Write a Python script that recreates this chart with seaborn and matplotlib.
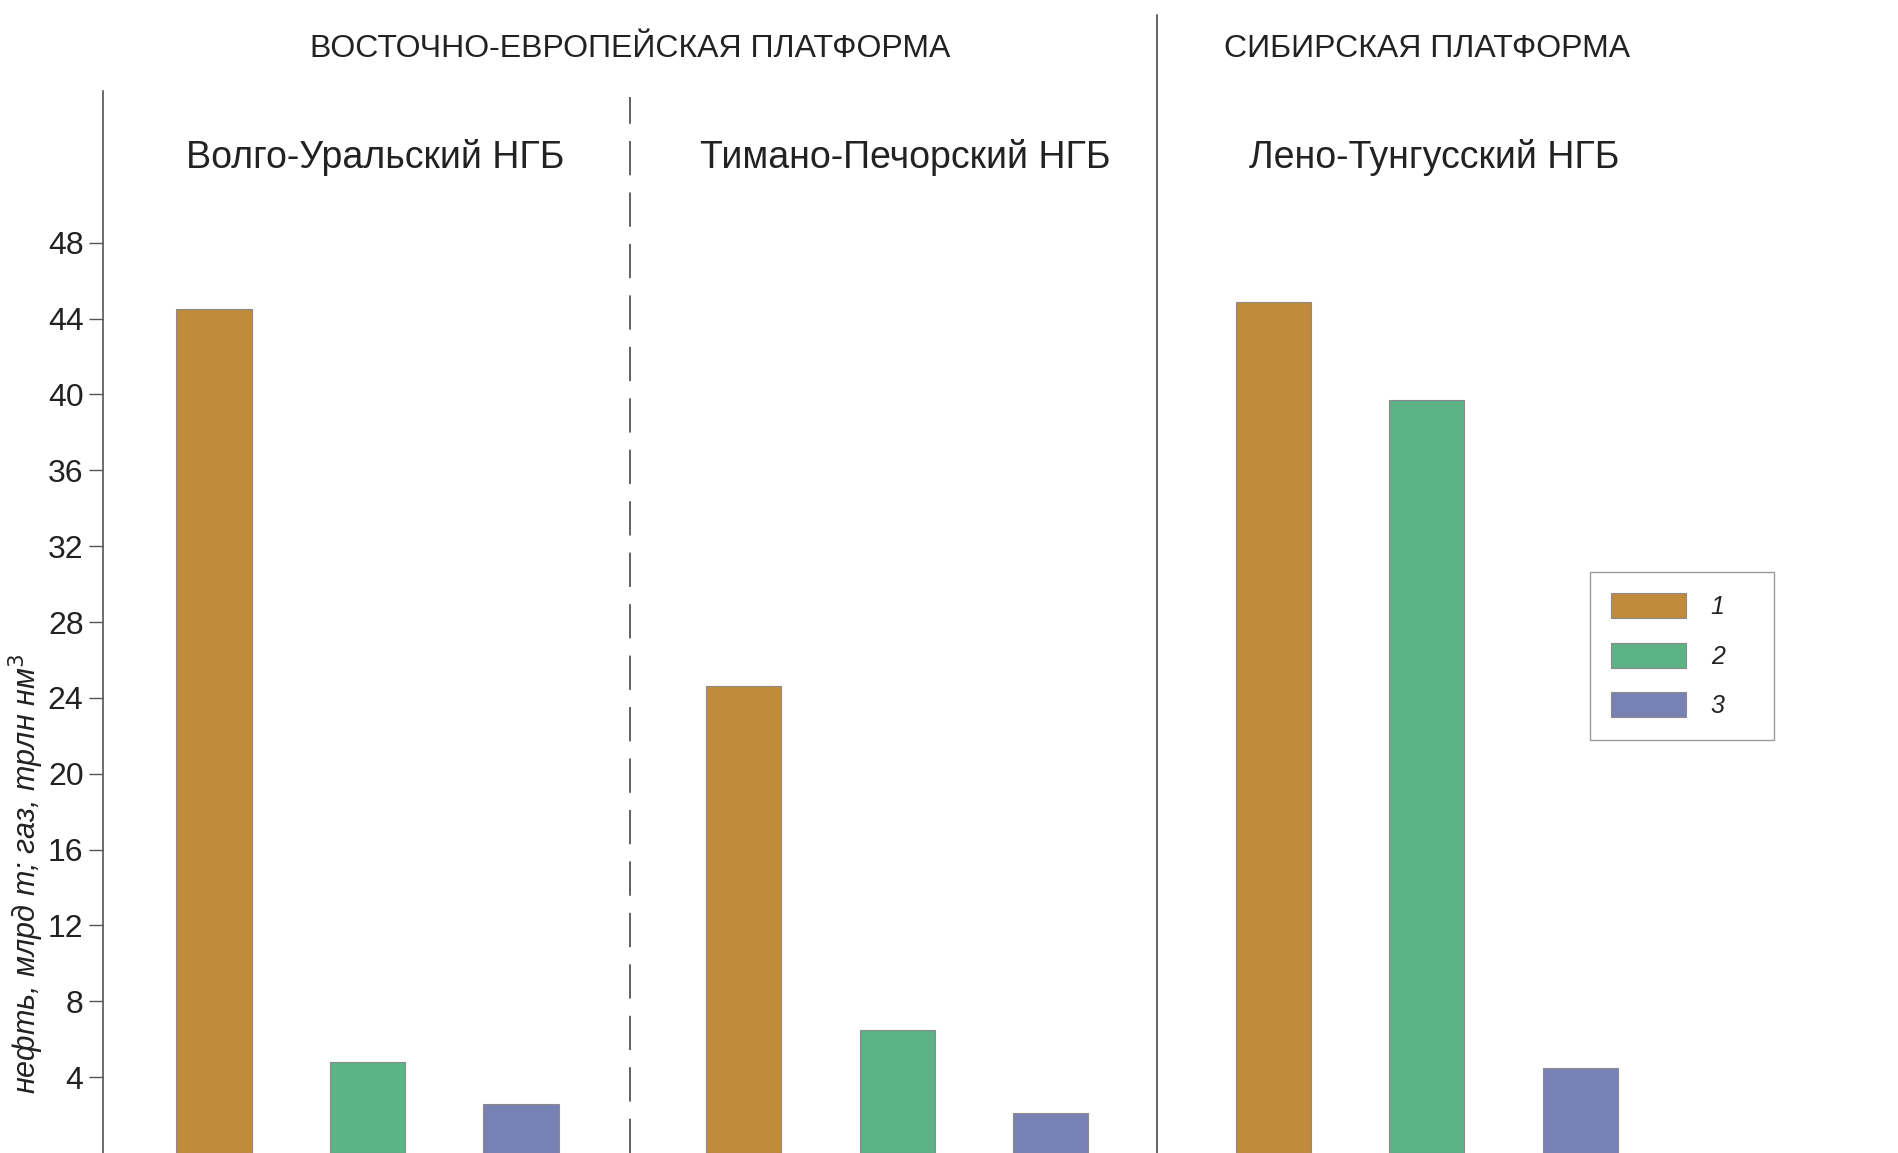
import numpy as np
import pandas as pd
import seaborn as sns
import matplotlib.pyplot as plt
import matplotlib.transforms as mtransforms

# data
basins = ["Волго-Уральский НГБ", "Тимано-Печорский НГБ", "Лено-Тунгусский НГБ"]
kinds = ["1", "2", "3"]
values_1 = [44.5, 24.6, 44.9]
values_2 = [4.8, 6.5, 39.7]
values_3 = [2.6, 2.1, 4.5]
platforms = ["ВОСТОЧНО-ЕВРОПЕЙСКАЯ ПЛАТФОРМА", "СИБИРСКАЯ ПЛАТФОРМА"]
yticks = list(range(4, 49, 4))
colors = ["#C08B3B", "#5BB386", "#7781B4"]

group_step = 3.45

rows = []
for g, b in enumerate(basins):
    for k, vals in enumerate([values_1, values_2, values_3]):
        rows.append({"basin": b, "kind": kinds[k], "value": vals[g],
                     "pos": g * group_step + k})
df = pd.DataFrame(rows)

sns.set_style("ticks")
plt.rcParams["font.family"] = ["Liberation Sans", "DejaVu Sans"]

W, H = 1898, 1153
fig = plt.figure(figsize=(W / 100, H / 100), dpi=100)
ax = fig.add_axes([103 / W, 0, (W - 103) / W, (H - 91) / H])

sns.barplot(data=df, x="pos", y="value", hue="kind", native_scale=True,
            dodge=False, width=0.49, palette=colors, edgecolor="#8a8a8a",
            linewidth=0.8, saturation=1, ax=ax)

ax.set_xlim(-0.723, 10.97)
ax.set_ylim(0, 56)
ax.set_yticks(yticks)
ax.set_xticks([])
ax.set_xlabel("")
ax.tick_params(axis="y", length=10, width=1, color="#555555", pad=4,
               labelsize=23, labelcolor="#222222")
for s in ["top", "right", "bottom"]:
    ax.spines[s].set_visible(False)
ax.spines["left"].set_color("#555555")
ax.spines["left"].set_linewidth(1.2)

ax.set_ylabel("нефть, млрд т; газ, трлн нм$^3$", fontsize=22, style="italic",
              color="#222222")
ax.yaxis.set_label_coords(-0.0315, 0.263)

# separators between basins / platforms
mid1 = 2.71
mid2 = 6.14
ax.axvline(mid2, ymin=0, ymax=(H - 15) / (H - 91), color="#555555", lw=1.3,
           clip_on=False)
ax.axvline(mid1, ymin=0, ymax=(H - 97) / (H - 91), color="#555555", lw=1.3,
           linestyle=(0, (19, 9.5)), clip_on=False)

trans = mtransforms.blended_transform_factory(ax.transData, ax.transAxes)
ax.text(mid1, 1.032, platforms[0], transform=trans, ha="center",
        va="baseline", fontsize=23, color="#222222")
ax.text(2 * group_step + 1, 1.032, platforms[1], transform=trans,
        ha="center", va="baseline", fontsize=23, color="#222222")
for g, b in enumerate(basins):
    ax.text(g * group_step + 1.05, 0.9275, b, transform=trans, ha="center",
            va="baseline", fontsize=27, color="#222222")

leg = ax.legend(loc="upper left", bbox_to_anchor=(1590 / W, 1 - 572 / H),
                bbox_transform=fig.transFigure, borderaxespad=0,
                fontsize=18, handlelength=3.0, handleheight=1.15,
                labelspacing=0.95, handletextpad=1.0, borderpad=0.85,
                fancybox=False, edgecolor="#9a9a9a", framealpha=1,
                title=None)
leg.get_frame().set_linewidth(1.0)
for t in leg.get_texts():
    t.set_style("italic")
    t.set_color("#222222")
    t.set_text(t.get_text() + "    ")

fig.savefig("out.png", dpi=100)
